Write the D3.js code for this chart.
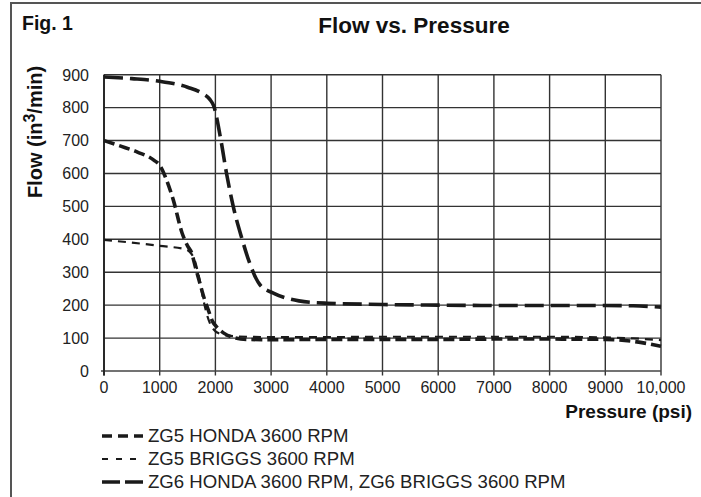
<!DOCTYPE html>
<html><head><meta charset="utf-8">
<script src="https://cdn.jsdelivr.net/npm/d3@7"></script>
<style>
html,body{margin:0;padding:0;background:#fff;}
svg{display:block;font-family:"Liberation Sans",Arial,Helvetica,sans-serif;}
</style></head>
<body>
<svg id="chart" width="701" height="497"></svg>
<script>
// ---- data ----
const xTicks = [0,1000,2000,3000,4000,5000,6000,7000,8000,9000,10000];
const xTickLabels = ["0","1000","2000","3000","4000","5000","6000","7000","8000","9000","10,000"];
const yTicks = [0,100,200,300,400,500,600,700,800,900];
const yTickLabels = ["0","100","200","300","400","500","600","700","800","900"];
const seriesNames = ["ZG5 HONDA 3600 RPM","ZG5 BRIGGS 3600 RPM","ZG6 HONDA 3600 RPM, ZG6 BRIGGS 3600 RPM"];

const zg5HondaPressure = [0,300,600,900,1000,1100,1245,1400,1500,1570,1650,1723,1800,1873,1950,2023,2150,2322,2561,3000,4000,5000,6000,7000,8000,9000,9500,10000];
const zg5HondaFlow     = [700,683,665,640,625,590,519,420,380,360,310,266,220,185,150,134,115,102,96,95,96,96,96,97,97,96,90,75];

const zg5BriggsPressure = [0,500,1000,1450,1550,1620,1700,1780,1850,1950,2100,2400,3000,4000,5000,6000,7000,8000,9000,9500,10000];
const zg5BriggsFlow     = [398,390,380,370,360,340,290,220,170,130,112,105,103,103,104,104,104,104,102,99,94];

const zg6Pressure = [0,500,1000,1500,1750,1900,1970,2100,2200,2320,2480,2600,2800,3050,3500,4000,5000,6000,7000,8000,9000,9500,10000];
const zg6Flow     = [893,888,880,862,845,825,805,700,600,500,400,335,262,236,213,206,202,200,199,199,199,198,194];

// ---- layout ----
const svg = d3.select("#chart");
const x = d3.scaleLinear().domain([0,10000]).range([104,661]);
const y = d3.scaleLinear().domain([0,900]).range([371,74.7]);

// figure frame
svg.append("line").attr("x1",11).attr("x2",701).attr("y1",3).attr("y2",3).attr("stroke","#555").attr("stroke-width",2);
svg.append("line").attr("x1",11).attr("x2",11).attr("y1",2).attr("y2",497).attr("stroke","#555").attr("stroke-width",2);

// titles
svg.append("text").attr("x",22).attr("y",29.5).attr("font-size",19.5).attr("font-weight","bold").attr("fill","#111").text("Fig. 1");
svg.append("text").attr("x",414).attr("y",33).attr("text-anchor","middle").attr("font-size",22.5).attr("font-weight","bold").attr("fill","#111").text("Flow vs. Pressure");

// grid
const g = svg.append("g");
g.selectAll(".hg").data(yTicks.filter(d=>d>0)).join("line")
  .attr("x1",x(0)).attr("x2",x(10000)).attr("y1",d=>y(d)).attr("y2",d=>y(d))
  .attr("stroke","#333").attr("stroke-width",1.4);
g.selectAll(".vg").data(xTicks).join("line")
  .attr("x1",d=>x(d)).attr("x2",d=>x(d)).attr("y1",y(900)).attr("y2",y(0)+4.5)
  .attr("stroke","#333").attr("stroke-width",1.4);
// axis lines
g.append("line").attr("x1",x(0)-3).attr("x2",x(10000)).attr("y1",y(0)).attr("y2",y(0)).attr("stroke","#444").attr("stroke-width",1.6);
g.append("line").attr("x1",x(0)).attr("x2",x(0)).attr("y1",y(900)).attr("y2",y(0)+4.5).attr("stroke","#222").attr("stroke-width",1.8);

// tick labels
svg.selectAll(".xl").data(xTicks).join("text")
  .attr("x",d=>x(d)).attr("y",393).attr("text-anchor","middle").attr("font-size",16).attr("fill","#222")
  .text((d,i)=>xTickLabels[i]);
svg.selectAll(".yl").data(yTicks).join("text")
  .attr("x",89).attr("y",d=>y(d)+5.8).attr("text-anchor","end").attr("font-size",16).attr("fill","#222")
  .text((d,i)=>yTickLabels[i]);

// axis titles
const yl = svg.append("text").attr("transform","translate(42,132) rotate(-90)").attr("text-anchor","middle")
  .attr("font-size",20).attr("font-weight","bold").attr("fill","#111");
yl.append("tspan").text("Flow (in");
yl.append("tspan").attr("dy",-7).attr("font-size",16).text("3");
yl.append("tspan").attr("dy",7).text("/min)");
svg.append("text").attr("x",692).attr("y",418).attr("text-anchor","end").attr("font-size",19).attr("font-weight","bold").attr("fill","#111").text("Pressure (psi)");

// series
const line = d3.line().x(d=>x(d[0])).y(d=>y(d[1])).curve(d3.curveMonotoneX);
const styles = [
  {p:zg5HondaPressure,f:zg5HondaFlow,w:3.6,dash:"11,5"},
  {p:zg5BriggsPressure,f:zg5BriggsFlow,w:2.2,dash:"8,6"},
  {p:zg6Pressure,f:zg6Flow,w:3.6,dash:"19,7"}
];
const dg = svg.append("g");
styles.forEach(s=>{
  const pts = s.p.map((v,i)=>[v,s.f[i]]);
  dg.append("path").datum(pts).attr("d",line).attr("fill","none").attr("stroke","#1a1a1a")
    .attr("stroke-width",s.w).attr("stroke-dasharray",s.dash).attr("stroke-linejoin","round");
});

// legend
const legRows = [436,459,482];
const legDash = ["10,6","6,8","18,5"];
const legW = [3.4,2.2,3.6];
seriesNames.forEach((n,i)=>{
  svg.append("line").attr("x1",102).attr("x2",143).attr("y1",legRows[i]).attr("y2",legRows[i])
    .attr("stroke","#1a1a1a").attr("stroke-width",legW[i]).attr("stroke-dasharray",legDash[i]);
  svg.append("text").attr("x",148).attr("y",legRows[i]+6.4).attr("font-size",18.6).attr("fill","#222").text(n);
});
</script>
</body></html>
